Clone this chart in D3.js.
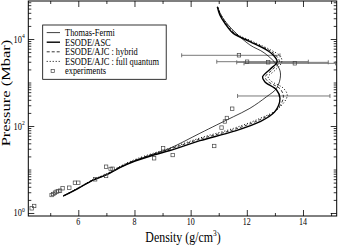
<!DOCTYPE html>
<html>
<head>
<meta charset="utf-8">
<script src="https://cdn.jsdelivr.net/npm/d3@7"></script>
<style>
  body { margin: 0; background: #fff; }
  svg { display: block; }
  text { font-family: "Liberation Serif", "Times New Roman", serif; fill: #000; }
</style>
</head>
<body>
<svg id="chart" width="338" height="245"></svg>
<script>
// --- Data (density g/cm3, pressure Mbar) ---
const thomasFermi = [
  [5.47, 2.46], [6.0, 3.7], [6.53, 5.7], [7.01, 7.6], [7.48, 11.1], [8.02, 15.9],
  [8.68, 22.5], [9.26, 30.7], [10.33, 68], [10.93, 106], [11.52, 163], [12.11, 255],
  [12.70, 470], [13.06, 736], [13.2, 1480], [13.12, 2300], [12.62, 4800], [12.11, 7300],
  [11.55, 15000], [11.22, 26000], [11.06, 38000], [10.96, 55000]
];
const esodeAsc = [
  [5.47, 2.46], [6.0, 3.7], [6.53, 5.7], [7.01, 7.6], [7.48, 11.1], [8.02, 15.7],
  [8.68, 21.5], [9.26, 27.3], [10.33, 46], [11.52, 75], [12.47, 126], [13.0, 214],
  [13.18, 434], [13.06, 674], [12.64, 1040], [12.56, 1340], [12.82, 2000], [13.08, 3000],
  [12.94, 4300], [12.70, 5600], [12.11, 8700], [11.52, 13500], [11.22, 23000],
  [11.04, 35800], [10.95, 55000]
];
const ajcHybrid = [
  [5.47, 2.46], [6.0, 3.75], [6.53, 5.8], [7.01, 7.8], [7.48, 11.5], [8.02, 16.4],
  [8.68, 22.8], [9.26, 29.5], [10.33, 50], [11.52, 82], [12.47, 140], [13.05, 230],
  [13.3, 450], [13.2, 700], [12.75, 1060], [12.66, 1340], [12.92, 2000], [13.16, 3000],
  [13.02, 4300], [12.75, 5700], [12.16, 8700], [11.56, 13500], [11.25, 23000],
  [11.06, 35800], [10.96, 55000]
];
const ajcQuantum = [
  [5.47, 2.46], [6.0, 3.8], [6.53, 5.9], [7.01, 8.0], [7.48, 11.8], [8.02, 17],
  [8.68, 23.8], [9.26, 31], [10.33, 53], [11.52, 88], [12.47, 150], [13.1, 245],
  [13.44, 500], [13.3, 740], [12.86, 1080], [12.76, 1350], [13.0, 1900], [13.24, 2900],
  [13.2, 4000], [12.85, 5600], [12.2, 8800], [11.6, 13600], [11.28, 23000],
  [11.08, 35800], [10.97, 55000]
];
// experiments: [density, pressure]
const experiments = [
  [4.34, 1.28], [4.43, 1.45], [5.05, 2.59], [5.11, 2.73], [5.17, 2.93], [5.23, 3.09],
  [5.29, 3.2], [5.35, 3.26], [5.44, 3.7], [5.68, 3.82], [5.88, 4.97], [6.0, 4.97],
  [6.6, 5.94], [6.99, 11.6], [6.99, 7.1], [7.15, 10.3], [7.22, 10.4], [8.70, 18.1],
  [9.02, 30.7], [9.36, 21.5], [10.84, 34.7], [11.10, 92], [11.22, 127], [11.29, 153],
  [11.48, 250], [11.72, 4220], [12.01, 3010], [12.76, 2910], [13.71, 2760]
];
// horizontal error bars: [low density, high density, pressure]
const errorBars = [
  [9.68, 13.18, 4220], [10.93, 14.19, 3010], [11.64, 14.90, 2910],
  [11.90, 15.16, 2760], [11.67, 14.96, 490]
];
const xMajor = [6, 8, 10, 12, 14];
const xMinor = [5, 7, 9, 11, 13, 15];
const yMajor = [1, 100, 10000];
const yMajorExp = ["0", "2", "4"];
const legendNames = ["Thomas-Fermi", "ESODE/ASC", "ESODE/AJC : hybrid", "ESODE/AJC : full quantum", "experiments"];

// --- Setup ---
const svg = d3.select("#chart");
const sx = 0.8; // horizontal squeeze of the original picture's text

const x = d3.scaleLinear().domain([4.22, 15.2]).range([28.3, 336.7]);
const y = d3.scaleLog().domain([0.853, 74800]).range([216, 1]);

const yMinor = [];
for (let n = 0; n < 5; n++) {
  for (let k = 1; k <= 9; k++) {
    const v = k * Math.pow(10, n);
    if (v >= 0.853 && v <= 74800 && !yMajor.includes(v)) yMinor.push(v);
  }
}

function styleAxis(g) {
  g.select(".domain").remove();
  g.selectAll(".tick line").attr("stroke", "#000").attr("stroke-width", 0.8);
  g.selectAll(".tick text").remove();
}

// ticks (pointing inwards on all four sides)
[[d3.axisBottom, 216], [d3.axisTop, 1]].forEach(([ax, ty]) => {
  svg.append("g").attr("transform", `translate(0,${ty})`)
    .call(ax(x).tickValues(xMajor).tickSize(-6)).call(styleAxis);
  svg.append("g").attr("transform", `translate(0,${ty})`)
    .call(ax(x).tickValues(xMinor).tickSize(-3)).call(styleAxis);
});
[[d3.axisLeft, 28.3], [d3.axisRight, 336.7]].forEach(([ax, tx]) => {
  svg.append("g").attr("transform", `translate(${tx},0)`)
    .call(ax(y).tickValues(yMajor).tickSize(-6)).call(styleAxis);
  svg.append("g").attr("transform", `translate(${tx},0)`)
    .call(ax(y).tickValues(yMinor).tickSize(-3)).call(styleAxis);
});

// frame
svg.append("rect")
  .attr("x", 28.3).attr("y", 1)
  .attr("width", 336.7 - 28.3).attr("height", 215)
  .attr("fill", "none").attr("stroke", "#000").attr("stroke-width", 1);

// tick labels
svg.append("g").selectAll("text").data(xMajor).join("text")
  .attr("transform", d => `translate(${x(d)},225.3) scale(${sx},1)`)
  .attr("text-anchor", "middle")
  .attr("font-size", 10)
  .text(d => d);

const yl = svg.append("g").selectAll("text").data(yMajor).join("text")
  .attr("transform", d => `translate(24.8,${y(d) + 3.5}) scale(${sx},1)`)
  .attr("text-anchor", "end")
  .attr("font-size", 10.5);
yl.append("tspan").text("10");
yl.append("tspan").attr("dy", -4.5).attr("font-size", 7).text((d, i) => yMajorExp[i]);

// axis titles
const xt = svg.append("text")
  .attr("transform", `translate(183,241.5) scale(0.82,1)`)
  .attr("text-anchor", "middle")
  .attr("font-size", 14.5);
xt.append("tspan").text("Density (g/cm");
xt.append("tspan").attr("dy", -6).attr("font-size", 9).text("3");
xt.append("tspan").attr("dy", 6).text(")");

svg.append("text")
  .attr("transform", `translate(10,93) scale(${sx},1) rotate(-90)`)
  .attr("text-anchor", "middle")
  .attr("font-size", 16.5)
  .text("Pressure (Mbar)");

// --- Clip & marks ---
svg.append("clipPath").attr("id", "plot-clip")
  .append("rect").attr("x", 28.3).attr("y", 1).attr("width", 308.4).attr("height", 215);
const plot = svg.append("g").attr("clip-path", "url(#plot-clip)");

const line = d3.line()
  .x(d => x(d[0])).y(d => y(d[1]))
  .curve(d3.curveCatmullRom.alpha(0.5));

const seriesStyles = [
  { data: thomasFermi, w: 0.75, dash: null },
  { data: esodeAsc, w: 1.4, dash: null },
  { data: ajcHybrid, w: 0.8, dash: "3,2" },
  { data: ajcQuantum, w: 1.0, dash: "1,2" }
];

// error bars
const eb = plot.append("g").attr("stroke", "#6a6a6a").attr("stroke-width", 0.9);
eb.selectAll("line.bar").data(errorBars).join("line")
  .attr("class", "bar")
  .attr("x1", d => x(d[0])).attr("x2", d => x(d[1]))
  .attr("y1", d => y(d[2])).attr("y2", d => y(d[2]));
eb.selectAll("line.capl").data(errorBars).join("line")
  .attr("class", "capl")
  .attr("x1", d => x(d[0])).attr("x2", d => x(d[0]))
  .attr("y1", d => y(d[2]) - 2).attr("y2", d => y(d[2]) + 2);
eb.selectAll("line.caph").data(errorBars).join("line")
  .attr("class", "caph")
  .attr("x1", d => x(d[1])).attr("x2", d => x(d[1]))
  .attr("y1", d => y(d[2]) - 2).attr("y2", d => y(d[2]) + 2);

plot.selectAll("path.series").data(seriesStyles).join("path")
  .attr("class", "series")
  .attr("d", d => line(d.data))
  .attr("fill", "none")
  .attr("stroke", "#000")
  .attr("stroke-width", d => d.w)
  .attr("stroke-dasharray", d => d.dash);

plot.append("g").selectAll("rect").data(experiments).join("rect")
  .attr("x", d => x(d[0]) - 1.7).attr("y", d => y(d[1]) - 1.7)
  .attr("width", 3.4).attr("height", 3.4)
  .attr("fill", "none").attr("stroke", "#444").attr("stroke-width", 0.7);

// --- Legend ---
const legend = svg.append("g");
legend.append("rect")
  .attr("x", 42.7).attr("y", 25).attr("width", 123.5).attr("height", 54.3)
  .attr("fill", "#fff").attr("stroke", "#000").attr("stroke-width", 0.8);

const rowY = i => 32.6 + i * 9.6;
legendNames.forEach((name, i) => {
  if (i < 4) {
    const s = seriesStyles[i];
    legend.append("line")
      .attr("x1", 46.7).attr("x2", 60).attr("y1", rowY(i)).attr("y2", rowY(i))
      .attr("stroke", "#000").attr("stroke-width", s.w)
      .attr("stroke-dasharray", s.dash);
  } else {
    legend.append("rect")
      .attr("x", 51.1).attr("y", rowY(i) - 1.6).attr("width", 3.2).attr("height", 3.2)
      .attr("fill", "none").attr("stroke", "#444").attr("stroke-width", 0.7);
  }
  legend.append("text")
    .attr("transform", `translate(65,${rowY(i) + 3.3}) scale(${sx},1)`)
    .attr("font-size", 10.5)
    .text(name);
});
</script>
</body>
</html>
